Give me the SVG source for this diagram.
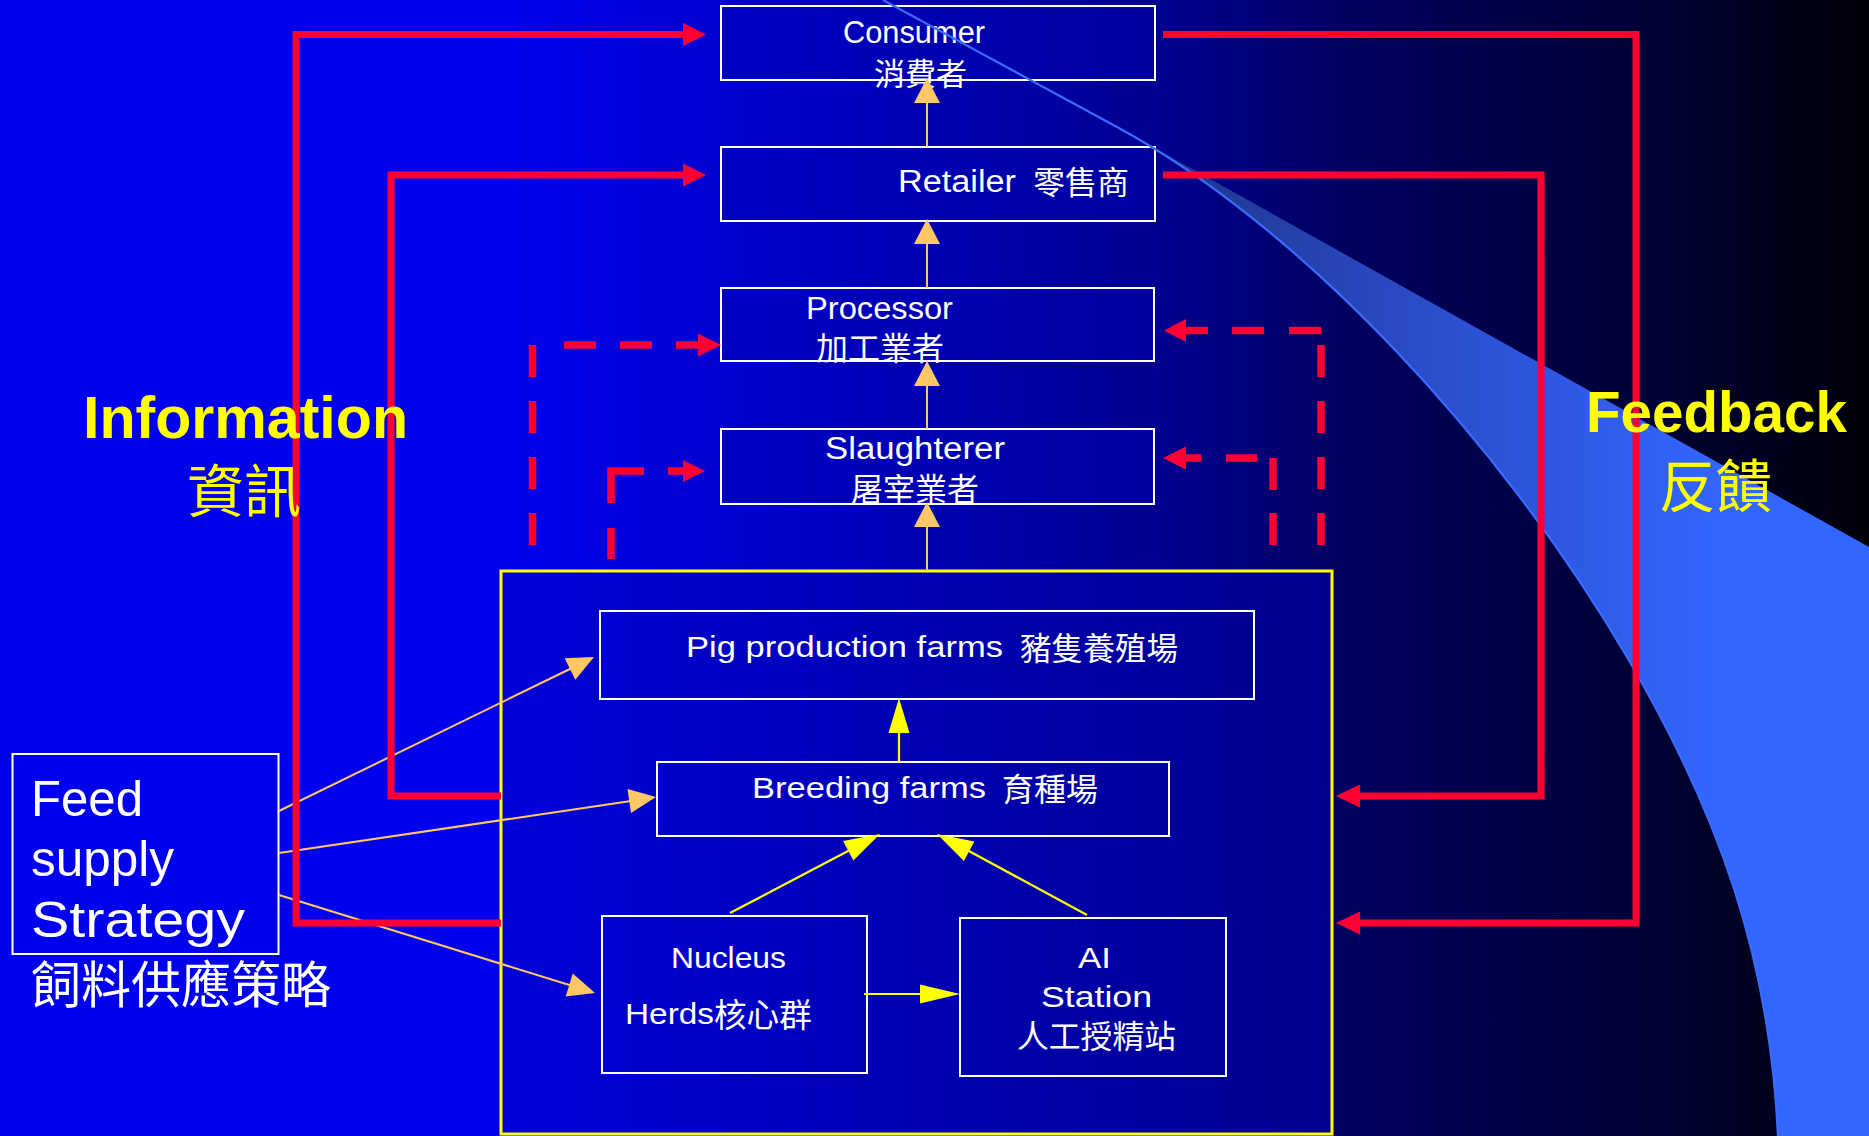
<svg xmlns="http://www.w3.org/2000/svg" width="1869" height="1136" viewBox="0 0 1869 1136">
<defs>
<linearGradient id="bg" x1="0" y1="0" x2="1869" y2="0" gradientUnits="userSpaceOnUse">
<stop offset="0" stop-color="#0000f0"/>
<stop offset="0.27" stop-color="#0000ee"/>
<stop offset="0.45" stop-color="#0000c0"/>
<stop offset="0.62" stop-color="#000090"/>
<stop offset="0.72" stop-color="#000060"/>
<stop offset="0.9" stop-color="#000030"/>
<stop offset="1" stop-color="#000008"/>
</linearGradient>
<linearGradient id="boxfill" x1="501" y1="0" x2="1331" y2="0" gradientUnits="userSpaceOnUse">
<stop offset="0" stop-color="#0000da"/>
<stop offset="1" stop-color="#00008e"/>
</linearGradient>
<linearGradient id="swoosh" x1="1117" y1="0" x2="1720" y2="0" gradientUnits="userSpaceOnUse">
<stop offset="0" stop-color="#1c3080"/>
<stop offset="0.5" stop-color="#2a4cc8"/>
<stop offset="1" stop-color="#3366ff"/>
</linearGradient>
<style>
.box{fill:url(#boxfill);stroke:#ffffff;stroke-width:2}
.t{font-family:"Liberation Sans","Noto Sans CJK TC",sans-serif;fill:#ffffff}
.c{font-family:"Noto Sans CJK TC","Noto Sans CJK SC",sans-serif;fill:#ffffff}
.red{fill:none;stroke:#ff0033;stroke-width:7}
.dash{fill:none;stroke:#ff0033;stroke-width:7.5}
.redh{fill:#ff0033}
.org{fill:none;stroke:#ffc864;stroke-width:2}
.orgh{fill:#ffc864}
.yel{fill:none;stroke:#ffff00;stroke-width:2.2}
.yelh{fill:#ffff00}
.lbl{font-family:"Liberation Sans","Noto Sans CJK TC",sans-serif;fill:#ffff00;font-weight:bold}
.lblc{font-family:"Noto Sans CJK TC",sans-serif;fill:#ffff00}
</style>
</defs>
<rect x="0" y="0" width="1869" height="1136" fill="url(#bg)"/>

<g id="panel">
<rect x="501" y="571" width="831" height="563" fill="url(#boxfill)" stroke="#ffff00" stroke-width="3"/>
</g>

<g id="consumer">
<rect class="box" x="721" y="6" width="434" height="74"/>
<text class="t" x="843" y="43" font-size="31" textLength="142" lengthAdjust="spacingAndGlyphs">Consumer</text>
<text class="c" x="874" y="85" font-size="31">消費者</text>
</g>
<g id="retailer">
<rect class="box" x="721" y="147" width="434" height="74"/>
<text class="t" x="898" y="192" font-size="31" textLength="118" lengthAdjust="spacingAndGlyphs">Retailer</text>
<text class="c" x="1033" y="194" font-size="32">零售商</text>
</g>
<g id="processor">
<rect class="box" x="721" y="288" width="433" height="73"/>
<text class="t" x="806" y="319" font-size="31" textLength="147" lengthAdjust="spacingAndGlyphs">Processor</text>
<text class="c" x="816" y="360" font-size="32">加工業者</text>
</g>
<g id="slaughterer">
<rect class="box" x="721" y="429" width="433" height="75"/>
<text class="t" x="825" y="459" font-size="31" textLength="180" lengthAdjust="spacingAndGlyphs">Slaughterer</text>
<text class="c" x="851" y="501" font-size="32">屠宰業者</text>
</g>
<g id="pigfarms">
<rect class="box" x="600" y="611" width="654" height="88"/>
<text class="t" x="686" y="657" font-size="29" textLength="317" lengthAdjust="spacingAndGlyphs">Pig production farms</text>
<text class="c" x="1020" y="660" font-size="31.6">豬隻養殖場</text>
</g>
<g id="breeding">
<rect class="box" x="657" y="762" width="512" height="74"/>
<text class="t" x="752" y="798" font-size="29" textLength="234" lengthAdjust="spacingAndGlyphs">Breeding farms</text>
<text class="c" x="1002" y="801" font-size="32">育種場</text>
</g>
<g id="nucleus">
<rect class="box" x="602" y="916" width="265" height="157"/>
<text class="t" x="671" y="968" font-size="29" textLength="115" lengthAdjust="spacingAndGlyphs">Nucleus</text>
<text class="t" x="625" y="1024" font-size="29" textLength="89" lengthAdjust="spacingAndGlyphs">Herds</text>
<text class="c" x="714" y="1027" font-size="32.6">核心群</text>
</g>
<g id="aistation">
<rect class="box" x="960" y="918" width="266" height="158"/>
<text class="t" x="1078" y="968" font-size="29" textLength="33" lengthAdjust="spacingAndGlyphs">AI</text>
<text class="t" x="1041" y="1007" font-size="29" textLength="111" lengthAdjust="spacingAndGlyphs">Station</text>
<text class="c" x="1017" y="1048" font-size="31.8">人工授精站</text>
</g>
<g id="feed">
<rect x="12.5" y="754" width="266" height="200" fill="none" stroke="#ffffff" stroke-width="2"/>
<text class="t" x="31" y="816" font-size="50" textLength="112" lengthAdjust="spacingAndGlyphs">Feed</text>
<text class="t" x="31" y="876" font-size="50" textLength="143" lengthAdjust="spacingAndGlyphs">supply</text>
<text class="t" x="31" y="937" font-size="50" textLength="214" lengthAdjust="spacingAndGlyphs">Strategy</text>
<text class="c" x="31" y="1003" font-size="50">飼料供應策略</text>
</g>

<g id="swoosh-decor">
<path d="M1117,127 L1869,547 L1869,1136 L1778,1136 C1770,960 1720,815 1627,657 C1500,440 1300,226 1117,127 Z" fill="url(#swoosh)"/>
<path d="M883,0 C960,42 1040,85 1117,127 C1300,226 1500,440 1627,657 C1720,815 1770,960 1778,1136" fill="none" stroke="#3a6cff" stroke-width="2.2"/>
</g>

<g id="connectors">
<line class="org" x1="927" y1="147" x2="927" y2="102"/>
<polygon class="orgh" points="927,78 940,103 914,103"/>
<line class="org" x1="927" y1="288" x2="927" y2="243"/>
<polygon class="orgh" points="927,219 940,244 914,244"/>
<line class="org" x1="927" y1="429" x2="927" y2="385"/>
<polygon class="orgh" points="927,361 940,386 914,386"/>
<line class="org" x1="927" y1="571" x2="927" y2="526"/>
<polygon class="orgh" points="927,502 940,527 914,527"/>
<line class="org" x1="279" y1="811" x2="572" y2="668"/>
<polygon class="orgh" points="594,657 575.3,679.8 564.7,658.2"/>
<line class="org" x1="279" y1="853" x2="631" y2="801"/>
<polygon class="orgh" points="656,797 631,813 627.5,789"/>
<line class="org" x1="279" y1="895" x2="571" y2="985.5"/>
<polygon class="orgh" points="595,993 565.7,996.5 572.8,973.5"/>
<line class="yel" x1="899" y1="762" x2="899" y2="730"/>
<polygon class="yelh" points="899,698 909.5,733 888.5,733"/>
<line class="yel" x1="730" y1="913" x2="850" y2="850"/>
<polygon class="yelh" points="880,834 853.4,860.5 843.1,841"/>
<line class="yel" x1="1087" y1="915" x2="967" y2="850"/>
<polygon class="yelh" points="937,834 974.4,841.5 963.9,860.9"/>
<line class="yel" x1="864" y1="994" x2="922" y2="994"/>
<polygon class="yelh" points="960,994 920,984.5 920,1003.5"/>
<polyline class="red" points="501,923 296,923 296,34.5 686,34.5"/>
<polygon class="redh" points="706,34.5 683,23 683,46"/>
<polyline class="red" points="501,796 391,796 391,175 686,175"/>
<polygon class="redh" points="706,175 683,163.5 683,186.5"/>
<polyline class="red" points="1163,34.5 1636,34.5 1636,923 1358,923"/>
<polygon class="redh" points="1336,923 1360,911.5 1360,934.5"/>
<polyline class="red" points="1163,175 1541,175 1541,796 1358,796"/>
<polygon class="redh" points="1336,796 1360,784.5 1360,807.5"/>
<path class="dash" d="M532.5,345 V569" stroke-dasharray="32 24"/>
<path class="dash" d="M564,345 H700" stroke-dasharray="32 24"/>
<polygon class="redh" points="721,345 698,333.5 698,356.5"/>
<path class="dash" d="M611,559 V528"/>
<path class="dash" d="M611,503 V471 H644"/>
<path class="dash" d="M668,471 H686"/>
<polygon class="redh" points="705,471 683,460 683,482"/>
<path class="dash" d="M1186,330.5 H1208 M1232,330.5 H1264 M1289,330.5 H1321"/>
<path class="dash" d="M1321,345 V569" stroke-dasharray="32 24"/>
<polygon class="redh" points="1164,330.5 1186,319 1186,342"/>
<path class="dash" d="M1186,458 H1201 M1226,458 H1257"/>
<path class="dash" d="M1273,458 V490 M1273,513 V545"/>
<polygon class="redh" points="1163,458 1186,446.5 1186,469.5"/>
</g>

<g id="labels">
<text class="lbl" x="83" y="438" font-size="60" textLength="325" lengthAdjust="spacingAndGlyphs">Information</text>
<text class="lblc" x="187" y="512" font-size="57">資訊</text>
<text class="lbl" x="1586" y="432" font-size="57" textLength="261" lengthAdjust="spacingAndGlyphs">Feedback</text>
<text class="lblc" x="1659" y="507" font-size="56.5">反饋</text>
</g>
</svg>
